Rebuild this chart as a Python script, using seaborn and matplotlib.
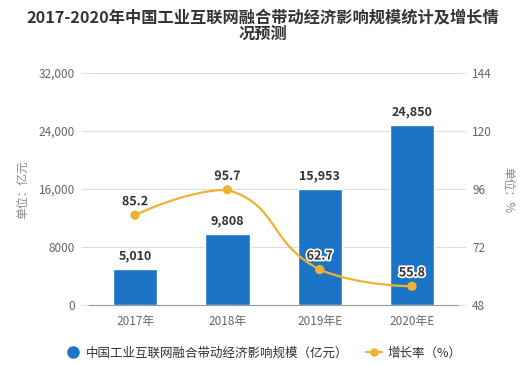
import numpy as np
import matplotlib
matplotlib.use('Agg')
import matplotlib.pyplot as plt
import matplotlib.patheffects as pe
from matplotlib.path import Path
from matplotlib.patches import PathPatch
from matplotlib.lines import Line2D
import seaborn as sns

sns.set_style('white')
plt.rcParams['font.family'] = ['Noto Sans CJK SC', 'DejaVu Sans']

years = ['2017年', '2018年', '2019年E', '2020年E']
scale = [5010, 9808, 15953, 24850]
rate = [85.2, 95.7, 62.7, 55.8]
left_ticks = [0, 8000, 16000, 24000, 32000]
left_labels = ['0', '8000', '16,000', '24,000', '32,000']
right_ticks = [48, 72, 96, 120, 144]

bar_color = '#1b74c5'
line_color = '#efb230'
text_color = '#333333'
tick_color = '#666666'

fig = plt.figure(figsize=(5.26, 3.65), dpi=100)
ax = fig.add_axes([0.169, 0.164, 0.702, 0.636])

sns.barplot(x=years, y=scale, color=bar_color, saturation=1, width=0.48, ax=ax, zorder=3)
ax.set_xlim(-0.5, 3.5)
ax.set_ylim(0, 32000)
ax.set_yticks(left_ticks)
ax.set_yticklabels(left_labels)
ax.yaxis.grid(True, color='#dddddd', linewidth=0.8)
ax.set_axisbelow(True)
ax.tick_params(axis='y', length=6, color='#dddddd', labelsize=8.5, labelcolor=tick_color, pad=4)
ax.tick_params(axis='x', length=0, labelsize=8.5, labelcolor=tick_color, pad=7)
for s in ['left', 'right', 'top']:
    ax.spines[s].set_visible(False)
ax.spines['bottom'].set_color('#999999')
ax.set_xlabel('')
ax.set_ylabel('')

for i, v in enumerate(scale):
    ax.annotate(f'{v:,}', (i, v), xytext=(0, 5), textcoords='offset points',
                ha='center', va='bottom', fontsize=9, fontweight='bold', color=text_color)

# growth rate line on the right axis
ax2 = ax.twinx()
ax2.set_ylim(48, 144)
ax2.set_yticks(right_ticks)
ax2.tick_params(axis='y', length=6, color='#dddddd', labelsize=8.5, labelcolor=tick_color, pad=4)
for s in ['left', 'right', 'top', 'bottom']:
    ax2.spines[s].set_visible(False)

# smooth curve (bezier through the points, control points kept inside the data extent)
xs = np.arange(len(rate))
kx, ky = 92.3, 2.417
pts = np.column_stack([xs * kx, np.array(rate) * ky])
lo, hi = pts.min(axis=0), pts.max(axis=0)
smooth = 0.5
cp_in = pts.copy()
cp_out = pts.copy()
for i in range(1, len(pts) - 1):
    v = pts[i + 1] - pts[i - 1]
    d0 = np.linalg.norm(pts[i] - pts[i - 1])
    d1 = np.linalg.norm(pts[i + 1] - pts[i])
    cp_in[i] = np.clip(pts[i] - v * smooth * d0 / (d0 + d1), lo, hi)
    cp_out[i] = np.clip(pts[i] + v * smooth * d1 / (d0 + d1), lo, hi)
verts = [pts[0]]
codes = [Path.MOVETO]
for i in range(len(pts) - 1):
    verts += [cp_out[i], cp_in[i + 1], pts[i + 1]]
    codes += [Path.CURVE4] * 3
verts = np.array(verts) / [kx, ky]
ax2.add_patch(PathPatch(Path(verts, codes), facecolor='none', edgecolor=line_color, lw=1.6, zorder=4))
sns.scatterplot(x=xs, y=rate, ax=ax2, color=line_color, s=45, edgecolor='none', zorder=5)
ax2.set_xlim(-0.5, 3.5)

for i, v in enumerate(rate):
    ax2.annotate(f'{v}', (i, v), xytext=(0, 5), textcoords='offset points',
                 ha='center', va='bottom', fontsize=9, fontweight='bold', color=text_color,
                 path_effects=[pe.withStroke(linewidth=2.5, foreground='white')])

fig.text(0.5, 0.953, '2017-2020年中国工业互联网融合带动经济影响规模统计及增长情',
         ha='center', va='center', fontsize=11.7, fontweight='bold', color=text_color)
fig.text(0.5, 0.908, '况预测',
         ha='center', va='center', fontsize=11.7, fontweight='bold', color=text_color)
fig.text(0.044, 0.48, '单位：亿元', rotation=90, ha='center', va='center', fontsize=8.5, color='#888888')
fig.text(0.966, 0.48, '单位：%', rotation=-90, ha='center', va='center', fontsize=8.5, color='#888888')

handles = [
    Line2D([], [], marker='o', linestyle='none', color=bar_color, markersize=8),
    Line2D([], [], marker='o', color=line_color, lw=1.6, markersize=5),
]
labels = ['中国工业互联网融合带动经济影响规模（亿元）', '增长率（%）']
fig.legend(handles, labels, loc='center', bbox_to_anchor=(0.5, 0.033), ncol=2, frameon=False,
           fontsize=9, handlelength=1.3, handletextpad=0.4, columnspacing=1.4, labelcolor=text_color)

fig.savefig('out.png', dpi=100)
